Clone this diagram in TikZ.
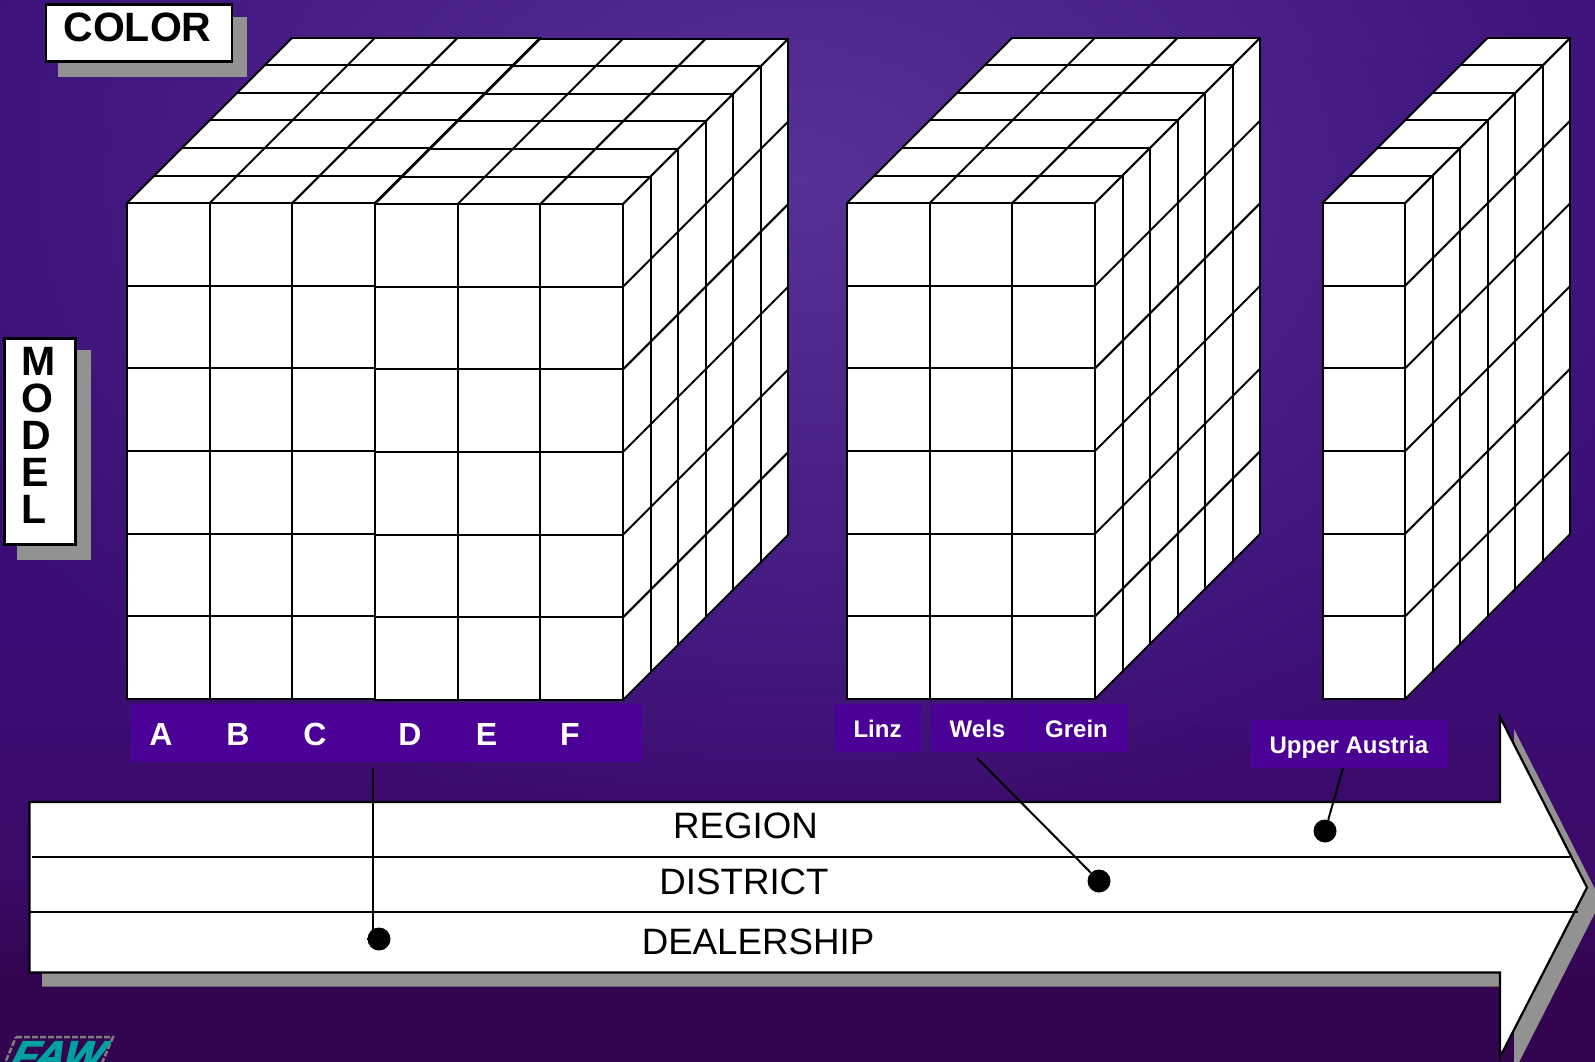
\documentclass[tikz,border=0pt]{standalone}
\usepackage{fontspec}
\setmainfont{Liberation Sans}
\newfontfamily\logofont[FakeBold=3,FakeStretch=1.05,FakeSlant=0.5]{Liberation Sans}
\usetikzlibrary{fadings}
\definecolor{boxpurple}{HTML}{4B0096}
\definecolor{shadowgray}{HTML}{929292}
\definecolor{logoteal}{HTML}{00A0A0}
\definecolor{logogray}{HTML}{7E7E7E}
\definecolor{bgtop}{HTML}{3A0F7C}
\definecolor{bgmid}{HTML}{3A0E74}
\definecolor{bglow}{HTML}{3C0A68}
\definecolor{bgbot}{HTML}{330450}
\definecolor{bgglow}{HTML}{573296}
\pgfdeclareverticalshading{bgshade}{100bp}{color(0bp)=(bgbot); color(29bp)=(bgbot); color(34bp)=(bglow); color(45bp)=(bgmid); color(100bp)=(bgtop)}
\tikzfading[name=glowfade, inner color=transparent!0, outer color=transparent!100]
\tikzset{
  grid line/.style={draw=black, line width=2pt, line cap=round},
  white box/.style={draw=black, fill=white, line width=2.2pt},
  shadow box/.style={fill=shadowgray, draw=none},
  purple label/.style={fill=boxpurple, draw=none},
  label text/.style={text=white, font=\bfseries\fontsize{24}{24}\selectfont, anchor=base, inner sep=0pt},
  letter text/.style={text=white, font=\bfseries\fontsize{32}{32}\selectfont, anchor=base, inner sep=0pt},
  band text/.style={text=black, font=\fontsize{36.7}{36.7}\selectfont, anchor=base, inner sep=0pt},
  dot/.style={circle, fill=black, minimum size=23pt, inner sep=0pt},
  leader/.style={draw=black, line width=2pt}
}
% #1 x0, #2 y0 (front top), #3 columns
\newcommand{\slicecube}[3]{%
  \pgfmathsetmacro{\cw}{82.67}%
  \pgfmathsetmacro{\cd}{27.5}%
  \pgfmathsetmacro{\xr}{#1+#3*\cw}%
  \pgfmathsetmacro{\yb}{#2+6*\cw}%
  \fill[white] (#1,#2) -- ({#1+6*\cd},{#2-6*\cd}) -- ({\xr+6*\cd},{#2-6*\cd}) -- ({\xr+6*\cd},{\yb-6*\cd}) -- (\xr,\yb) -- (#1,\yb) -- cycle;
  \foreach \i in {0,...,#3} {
    \draw[grid line] ({#1+\i*\cw},#2) -- ({#1+\i*\cw},\yb);
    \draw[grid line] ({#1+\i*\cw},#2) -- ({#1+\i*\cw+6*\cd},{#2-6*\cd});
  }
  \foreach \j in {0,...,6} {
    \draw[grid line] (#1,{#2+\j*\cw}) -- (\xr,{#2+\j*\cw});
    \draw[grid line] (\xr,{#2+\j*\cw}) -- ({\xr+6*\cd},{#2+\j*\cw-6*\cd});
    \draw[grid line] ({#1+\j*\cd},{#2-\j*\cd}) -- ({\xr+\j*\cd},{#2-\j*\cd});
    \draw[grid line] ({\xr+\j*\cd},{#2-\j*\cd}) -- ({\xr+\j*\cd},{\yb-\j*\cd});
  }
}
\begin{document}
\begin{tikzpicture}[x=1pt,y=-1pt]
\useasboundingbox (0,0) rectangle (1595,1062);
\clip (0,0) rectangle (1595,1062);
% background
\shade[shading=bgshade] (0,0) rectangle (1595,1062);
\fill[bgglow, path fading=glowfade] (-150,-480) rectangle (1750,840);

% logo
\draw[logogray, line width=2.5pt, dash pattern=on 6pt off 2pt] (16,1037) -- (113,1037) -- (99,1070) -- (2,1070) -- cycle;
\node[anchor=base, inner sep=0pt, text=logoteal, font=\logofont\bfseries\fontsize{40}{40}\selectfont] (logo) at (52,1069) {FAW};

% COLOR tag
\fill[shadowgray] (58,17) rectangle (247,77);
\node[white box, minimum width=186pt, minimum height=57pt, inner sep=0pt] (colorbox) at (139,33) {};
\node[anchor=base, inner sep=0pt, font=\bfseries\fontsize{41}{41}\selectfont] (colortext) at (137.5,41.5) {COLOR};

% MODEL tag
\fill[shadowgray] (17,350) rectangle (91,559.5);
\node[white box, minimum width=71pt, minimum height=206pt, inner sep=0pt] (modelbox) at (40,441.5) {};
\foreach \n/\t/\yy in {m/M/375, o/O/412, d/D/449, e/E/486.5, l/L/523.5} {
  \node[anchor=base west, inner sep=0pt, font=\bfseries\fontsize{41}{41}\selectfont] (model\n) at (21.7,\yy) {\t};
}

% cubes
\slicecube{127}{203}{3}
\slicecube{375}{204}{3}
\slicecube{847}{203}{3}
\slicecube{1322.5}{203}{1}

% labels for first cube
\node[purple label, minimum width=512pt, minimum height=58pt, inner sep=0pt] (lettersbar) at (386,733) {};
\node[letter text] (la) at (161,745) {A};
\node[letter text] (lb) at (238,745) {B};
\node[letter text] (lc) at (315,745) {C};
\node[letter text] (ld) at (410,745) {D};
\node[letter text] (le) at (486.5,745) {E};
\node[letter text] (lf) at (570,745) {F};

% district labels
\node[purple label, minimum width=87pt, minimum height=48pt, inner sep=0pt] (linzbox) at (877.5,728) {};
\node[purple label, minimum width=95pt, minimum height=48pt, inner sep=0pt] (welsbox) at (977,728) {};
\node[purple label, minimum width=102pt, minimum height=48pt, inner sep=0pt] (greinbox) at (1077,728) {};
\node[purple label, minimum width=198pt, minimum height=48pt, inner sep=0pt] (upperbox) at (1349,744) {};
\node[label text] (linz) at (877.5,737) {Linz};
\node[label text] (wels) at (977.5,737) {Wels};
\node[label text] (grein) at (1076.5,737) {Grein};
\node[label text] (upper) at (1349,753) {Upper Austria};

% big arrow shadow
\fill[shadowgray] (42,816) -- (1514,816) -- (1514,729) -- (1601,901) -- (1514,1072) -- (1514,986.5) -- (42,986.5) -- cycle;
% big arrow
\draw[white box, line join=miter] (29.5,802) -- (1500,802) -- (1500,717) -- (1587,887.5) -- (1500,1057) -- (1500,972.5) -- (29.5,972.5) -- cycle;
\coordinate (bandAw) at (32,856.5);
\coordinate (bandAe) at (1570,856.5);
\coordinate (bandBw) at (29.5,911.5);
\coordinate (bandBe) at (1578,911.5);
\draw[leader] (bandAw) -- (bandAe);
\draw[leader] (bandBw) -- (bandBe);

\node[band text] (region) at (745.5,838.5) {REGION};
\node[band text] (district) at (744,894.5) {DISTRICT};
\node[band text] (dealer) at (758,954.5) {DEALERSHIP};

% connectors
\node[dot] (dotdealer) at (379,939) {};
\node[dot] (dotdistrict) at (1099,881) {};
\node[dot] (dotregion) at (1325,831) {};
\coordinate (fromletters) at (373,768);
\coordinate (fromwels) at (977,758);
\coordinate (fromupper) at (1343,768);
\draw[leader] (fromletters) -- (373,939) -- (dotdealer);
\draw[leader] (fromwels) -- (dotdistrict);
\draw[leader] (fromupper) -- (dotregion);
\end{tikzpicture}
\end{document}
